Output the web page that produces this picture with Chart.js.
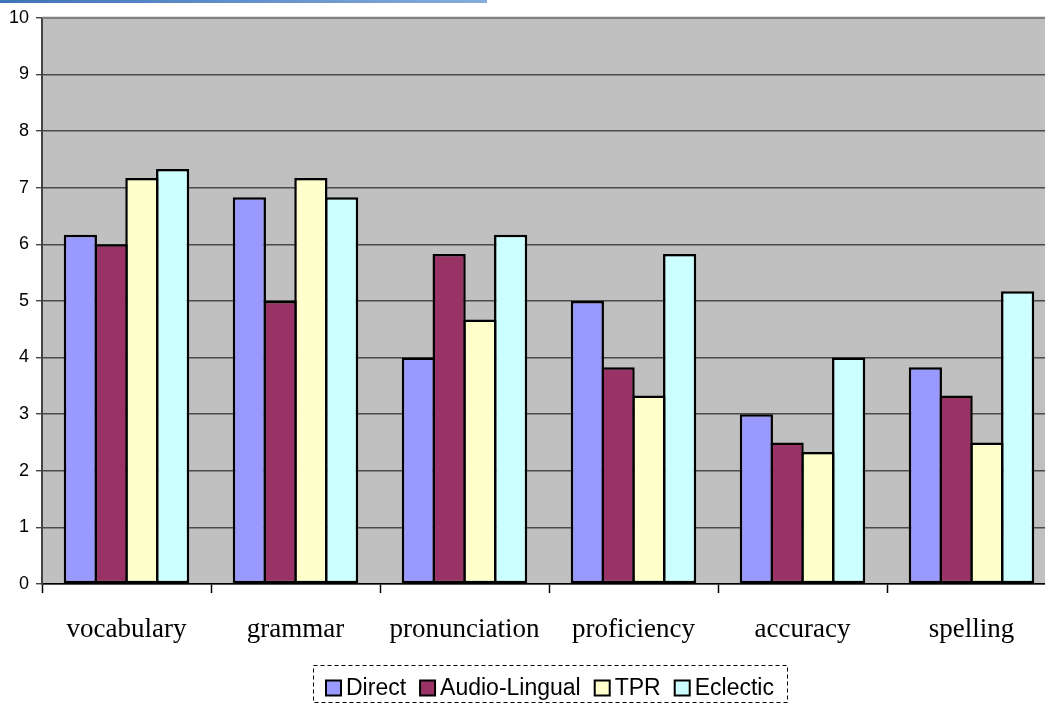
<!DOCTYPE html>
<html>
<head>
<meta charset="utf-8">
<script src="https://cdn.jsdelivr.net/npm/chart.js@4/dist/chart.umd.min.js"></script>
<style>
  html, body { margin: 0; padding: 0; background: #ffffff; overflow: hidden; }
  #wrap { width: 1056px; height: 706px; }
</style>
</head>
<body>
<div id="wrap"><canvas id="c" width="1056" height="706"></canvas></div>
<script>
// Skill ratings per teaching method
const categories = ['vocabulary', 'grammar', 'pronunciation', 'proficiency', 'accuracy', 'spelling'];
const direct       = [6.17, 6.83, 4.00, 5.00, 3.00, 3.83];
const audioLingual = [6.00, 5.00, 5.83, 3.83, 2.50, 3.33];
const tpr          = [7.17, 7.17, 4.67, 3.33, 2.33, 2.50];
const eclectic     = [7.33, 6.83, 6.17, 5.83, 4.00, 5.17];
const seriesNames  = ['Direct', 'Audio-Lingual', 'TPR', 'Eclectic'];
const yTicks       = [0, 1, 2, 3, 4, 5, 6, 7, 8, 9, 10];

const colors = ['#9999FF', '#993366', '#FFFFCC', '#CCFFFF'];
const seriesData = [direct, audioLingual, tpr, eclectic];

// Grey plot background, top frame line and the thin blue rule at the page top
const plotBackground = {
  id: 'plotBackground',
  beforeDraw(chart) {
    const { ctx, chartArea: a } = chart;
    ctx.save();
    ctx.fillStyle = '#C0C0C0';
    ctx.fillRect(a.left, a.top, a.right - a.left, a.bottom - a.top);
    // blue rule
    const g = ctx.createLinearGradient(0, 0, 487, 0);
    g.addColorStop(0, '#3F73B9');
    g.addColorStop(1, '#86ADDC');
    ctx.fillStyle = g;
    ctx.fillRect(0, 0, 487, 3);
    ctx.restore();
  },
  afterDraw(chart) {
    const { ctx, chartArea: a } = chart;
    ctx.save();
    ctx.strokeStyle = '#808080';
    ctx.lineWidth = 2;
    ctx.beginPath();
    ctx.moveTo(a.left, a.top);
    ctx.lineTo(a.right, a.top);
    ctx.stroke();
    ctx.restore();
  }
};

// Legend in a dashed frame under the axis labels
const boxedLegend = {
  id: 'boxedLegend',
  afterDraw(chart) {
    const { ctx } = chart;
    const font = '23px "Liberation Sans", Arial, sans-serif';
    const sq = 15, gapText = 5, gapItem = 14, padX = 13;
    ctx.save();
    ctx.font = font;
    const items = chart.data.datasets.map(ds => ({
      label: ds.label, color: ds.backgroundColor, w: ctx.measureText(ds.label).width
    }));
    let total = 0;
    items.forEach((it, i) => { total += sq + gapText + it.w + (i < items.length - 1 ? gapItem : 0); });
    const cx = 549.5;
    const boxLeft = cx - total / 2 - padX, boxRight = cx + total / 2 + padX;
    const boxTop = 665.5, boxBottom = 702.5;
    ctx.strokeStyle = '#000';
    ctx.lineWidth = 1;
    ctx.setLineDash([4, 3]);
    ctx.strokeRect(Math.round(boxLeft) + 0.5, boxTop, Math.round(boxRight - boxLeft), boxBottom - boxTop);
    ctx.setLineDash([]);
    let x = Math.round(cx - total / 2);
    const midY = 688;
    items.forEach(it => {
      ctx.fillStyle = it.color;
      ctx.fillRect(x, midY - sq / 2, sq, sq);
      ctx.lineWidth = 2;
      ctx.strokeStyle = '#000';
      ctx.strokeRect(x, midY - sq / 2, sq, sq);
      ctx.fillStyle = '#000';
      ctx.textBaseline = 'middle';
      ctx.textAlign = 'left';
      ctx.fillText(it.label, x + sq + gapText, midY + 1);
      x += sq + gapText + it.w + gapItem;
    });
    ctx.restore();
  }
};

new Chart(document.getElementById('c'), {
  type: 'bar',
  data: {
    labels: categories,
    datasets: seriesNames.map((name, i) => ({
      label: name,
      data: seriesData[i],
      backgroundColor: colors[i],
      borderColor: '#000000',
      borderWidth: 2.5,
      borderSkipped: false,
      barPercentage: 1.08,
      categoryPercentage: 0.728
    }))
  },
  options: {
    responsive: false,
    animation: false,
    devicePixelRatio: 1,
    layout: { padding: { top: 15, right: 0, bottom: 0, left: 0 } },
    plugins: {
      legend: { display: false },
      tooltip: { enabled: false }
    },
    scales: {
      x: {
        offset: true,
        grid: {
          offset: true,
          drawOnChartArea: false,
          drawTicks: true,
          tickLength: 9,
          tickWidth: 1.5,
          tickColor: '#000'
        },
        border: { display: true, color: '#000', width: 1.5 },
        ticks: {
          color: '#000',
          padding: 21,
          maxRotation: 0,
          autoSkip: false,
          font: { family: '"Liberation Serif", "Times New Roman", serif', size: 27 }
        },
        afterFit(scale) { scale.height = 122; }
      },
      y: {
        min: 0,
        max: 10,
        afterBuildTicks(scale) { scale.ticks = yTicks.map(v => ({ value: v })); },
        grid: {
          color: '#4a4a4a',
          lineWidth: 1.4,
          drawTicks: true,
          tickLength: 6,
          tickColor: '#444'
        },
        border: { display: true, color: '#444444', width: 2 },
        ticks: {
          color: '#000',
          padding: 7,
          font: { family: '"Liberation Sans", Arial, sans-serif', size: 18 }
        },
        afterFit(scale) { scale.width = 42; }
      }
    }
  },
  plugins: [plotBackground, boxedLegend]
});
</script>
</body>
</html>
